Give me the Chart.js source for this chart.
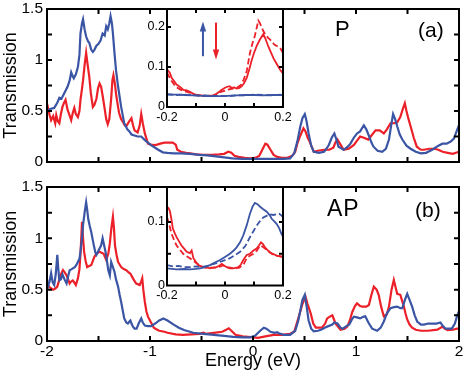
<!DOCTYPE html>
<html><head><meta charset="utf-8">
<script src="https://cdn.jsdelivr.net/npm/chart.js@4/dist/chart.umd.min.js"></script>
<style>
html,body{margin:0;padding:0;background:#fff;}
#wrap{position:relative;width:463px;height:377px;overflow:hidden;font-family:"Liberation Sans",Arial,sans-serif;}
canvas{position:absolute;left:0;top:0;}
.lbl{position:absolute;line-height:1;color:#000;white-space:nowrap;}
</style></head><body>
<div id="wrap">
<canvas id="ma" width="463" height="377"></canvas>
<canvas id="mb" width="463" height="377"></canvas>
<canvas id="ia" width="463" height="377"></canvas>
<canvas id="ib" width="463" height="377"></canvas>
<div class="lbl" style="left:335px;top:18px;font-size:22px">P</div>
<div class="lbl" style="left:418px;top:19px;font-size:21px">(a)</div>
<div class="lbl" style="left:327px;top:197px;font-size:23px;letter-spacing:1px">AP</div>
<div class="lbl" style="left:415px;top:199px;font-size:21px">(b)</div>
</div>
<script>
// ---------- data ----------
const BLUE = '#3b55a5';
const RED = '#ec2028';
const mainXTicks = [-2, -1, 0, 1, 2];
const mainYTicks = [0, 0.5, 1, 1.5];
const insetXTicks = [-0.2, 0, 0.2];
const insetAYTicks = [0, 0.1, 0.2];
const insetBYTicks = [0, 0.1];

// Panel (a) main, spin-up (blue) and spin-down (red)
const aBlueE = [-2.0,-1.97,-1.93,-1.90,-1.88,-1.86,-1.83,-1.80,-1.78,-1.765,-1.75,-1.74,-1.72,-1.70,-1.685,-1.675,-1.66,-1.65,-1.635,-1.62,-1.60,-1.59,-1.57,-1.555,-1.54,-1.52,-1.50,-1.48,-1.46,-1.44,-1.425,-1.41,-1.395,-1.383,-1.37,-1.36,-1.345,-1.33,-1.31,-1.28,-1.25,-1.22,-1.20,-1.18,-1.15,-1.12,-1.085,-1.05,-1.02,-0.99,-0.95,-0.92,-0.875,-0.83,-0.77,-0.70,-0.61,-0.52,-0.445,-0.36,-0.28,-0.2,-0.1,0,0.1,0.2,0.3,0.36,0.40,0.43,0.46,0.48,0.503,0.52,0.54,0.565,0.59,0.64,0.69,0.72,0.736,0.765,0.79,0.81,0.83,0.88,0.92,0.946,0.98,1.01,1.04,1.076,1.10,1.124,1.15,1.17,1.21,1.254,1.29,1.32,1.34,1.36,1.38,1.40,1.425,1.45,1.49,1.53,1.58,1.63,1.68,1.74,1.80,1.84,1.88,1.92,1.95,1.98,2.0];
const aBlueT = [0.50,0.52,0.53,0.58,0.63,0.62,0.68,0.74,0.80,0.88,0.84,0.82,0.86,0.93,1.05,1.26,1.36,1.40,1.30,1.23,1.18,1.17,1.10,1.08,1.10,1.14,1.16,1.19,1.26,1.24,1.33,1.30,1.36,1.43,1.36,1.26,1.07,0.90,0.74,0.54,0.38,0.32,0.30,0.27,0.26,0.25,0.25,0.215,0.19,0.165,0.14,0.12,0.095,0.09,0.085,0.085,0.08,0.07,0.065,0.055,0.045,0.035,0.03,0.03,0.03,0.03,0.03,0.035,0.085,0.2,0.35,0.43,0.47,0.40,0.28,0.16,0.10,0.09,0.10,0.14,0.167,0.24,0.28,0.22,0.15,0.12,0.15,0.18,0.24,0.28,0.30,0.36,0.32,0.26,0.19,0.15,0.11,0.10,0.13,0.22,0.35,0.47,0.42,0.35,0.27,0.22,0.16,0.13,0.10,0.085,0.09,0.12,0.16,0.18,0.18,0.20,0.23,0.31,0.36];
const aRedE = [-2.0,-1.99,-1.975,-1.96,-1.94,-1.92,-1.91,-1.895,-1.88,-1.865,-1.85,-1.835,-1.82,-1.80,-1.785,-1.765,-1.75,-1.735,-1.72,-1.70,-1.685,-1.675,-1.66,-1.65,-1.635,-1.62,-1.605,-1.59,-1.575,-1.555,-1.54,-1.52,-1.505,-1.49,-1.475,-1.458,-1.44,-1.425,-1.41,-1.395,-1.377,-1.365,-1.355,-1.34,-1.33,-1.315,-1.30,-1.28,-1.264,-1.245,-1.225,-1.20,-1.18,-1.165,-1.15,-1.12,-1.10,-1.085,-1.07,-1.05,-1.02,-0.99,-0.96,-0.93,-0.90,-0.86,-0.82,-0.78,-0.75,-0.735,-0.70,-0.65,-0.61,-0.55,-0.48,-0.40,-0.33,-0.28,-0.24,-0.21,-0.18,-0.14,-0.08,-0.03,0.02,0.06,0.09,0.12,0.14,0.17,0.2,0.235,0.28,0.33,0.38,0.41,0.43,0.46,0.49,0.51,0.53,0.55,0.59,0.63,0.69,0.74,0.78,0.80,0.82,0.85,0.88,0.93,0.98,1.01,1.04,1.07,1.12,1.15,1.19,1.23,1.27,1.30,1.335,1.37,1.40,1.43,1.455,1.474,1.49,1.51,1.53,1.56,1.59,1.63,1.66,1.71,1.76,1.80,1.84,1.89,1.94,1.97,2.0];
const aRedT = [0.50,0.53,0.46,0.41,0.45,0.38,0.46,0.40,0.38,0.47,0.54,0.58,0.61,0.51,0.47,0.41,0.48,0.53,0.47,0.44,0.50,0.61,0.72,0.80,0.95,1.07,0.95,0.84,0.68,0.54,0.56,0.62,0.72,0.77,0.74,0.64,0.52,0.42,0.37,0.42,0.62,0.80,0.85,0.76,0.67,0.57,0.48,0.42,0.395,0.36,0.36,0.40,0.43,0.36,0.31,0.29,0.36,0.47,0.38,0.28,0.18,0.17,0.165,0.17,0.18,0.19,0.19,0.19,0.17,0.12,0.10,0.09,0.085,0.075,0.07,0.07,0.075,0.08,0.10,0.09,0.06,0.05,0.04,0.035,0.04,0.06,0.12,0.18,0.17,0.12,0.07,0.05,0.04,0.04,0.06,0.10,0.18,0.26,0.33,0.30,0.24,0.20,0.10,0.11,0.12,0.12,0.14,0.19,0.22,0.17,0.12,0.13,0.167,0.21,0.25,0.24,0.22,0.26,0.31,0.31,0.28,0.32,0.38,0.38,0.39,0.44,0.52,0.575,0.50,0.42,0.35,0.24,0.15,0.12,0.12,0.13,0.13,0.12,0.10,0.09,0.08,0.09,0.10];

// Panel (b) main
const bBlueE = [-2.0,-1.99,-1.975,-1.96,-1.945,-1.93,-1.915,-1.90,-1.89,-1.88,-1.865,-1.85,-1.83,-1.81,-1.795,-1.78,-1.76,-1.73,-1.715,-1.70,-1.685,-1.675,-1.66,-1.65,-1.635,-1.62,-1.61,-1.60,-1.585,-1.57,-1.555,-1.545,-1.53,-1.52,-1.505,-1.49,-1.475,-1.46,-1.445,-1.43,-1.415,-1.405,-1.39,-1.377,-1.36,-1.345,-1.33,-1.31,-1.295,-1.28,-1.265,-1.25,-1.23,-1.215,-1.20,-1.19,-1.18,-1.165,-1.15,-1.13,-1.11,-1.085,-1.07,-1.05,-1.02,-0.99,-0.95,-0.91,-0.87,-0.83,-0.77,-0.72,-0.67,-0.58,-0.48,-0.38,-0.28,-0.19,-0.1,-0.03,0.02,0.07,0.105,0.13,0.17,0.21,0.235,0.25,0.30,0.36,0.41,0.44,0.46,0.48,0.503,0.52,0.54,0.565,0.59,0.63,0.66,0.72,0.77,0.79,0.82,0.85,0.87,0.90,0.935,0.96,0.98,1.01,1.04,1.07,1.09,1.12,1.157,1.205,1.24,1.27,1.30,1.335,1.37,1.40,1.43,1.45,1.475,1.497,1.52,1.545,1.57,1.594,1.63,1.66,1.70,1.74,1.78,1.82,1.84,1.87,1.90,1.93,1.96,1.98,2.0];
const bBlueT = [0.60,0.53,0.58,0.66,0.57,0.545,0.65,0.84,0.70,0.59,0.60,0.65,0.60,0.56,0.63,0.69,0.70,0.72,0.74,0.77,0.80,0.87,1.00,1.13,1.25,1.35,1.28,1.19,1.12,1.06,0.98,0.93,0.86,0.84,0.87,0.90,0.93,1.00,0.93,0.86,0.76,0.69,0.64,0.77,0.72,0.675,0.60,0.53,0.45,0.38,0.30,0.22,0.18,0.17,0.19,0.20,0.17,0.14,0.12,0.12,0.17,0.22,0.18,0.15,0.145,0.145,0.17,0.20,0.22,0.20,0.16,0.13,0.107,0.08,0.07,0.06,0.05,0.04,0.035,0.035,0.05,0.10,0.13,0.12,0.09,0.08,0.085,0.075,0.06,0.06,0.10,0.20,0.30,0.40,0.45,0.34,0.20,0.12,0.095,0.10,0.11,0.14,0.16,0.18,0.17,0.13,0.12,0.14,0.16,0.21,0.237,0.23,0.22,0.235,0.24,0.18,0.12,0.10,0.13,0.19,0.27,0.32,0.33,0.335,0.32,0.32,0.40,0.46,0.40,0.335,0.25,0.19,0.16,0.16,0.17,0.17,0.17,0.18,0.15,0.12,0.12,0.12,0.17,0.24,0.29];
const bRedE = [-2.0,-1.99,-1.97,-1.94,-1.92,-1.90,-1.88,-1.86,-1.845,-1.83,-1.81,-1.795,-1.78,-1.765,-1.75,-1.735,-1.72,-1.70,-1.685,-1.675,-1.665,-1.66,-1.65,-1.64,-1.625,-1.61,-1.59,-1.57,-1.555,-1.54,-1.52,-1.49,-1.47,-1.45,-1.425,-1.405,-1.39,-1.375,-1.36,-1.35,-1.34,-1.325,-1.31,-1.28,-1.255,-1.23,-1.21,-1.19,-1.16,-1.134,-1.10,-1.085,-1.075,-1.065,-1.05,-1.035,-1.02,-0.99,-0.963,-0.93,-0.91,-0.86,-0.83,-0.75,-0.68,-0.60,-0.52,-0.48,-0.46,-0.38,-0.30,-0.26,-0.235,-0.21,-0.17,-0.1,-0.05,0.05,0.12,0.2,0.28,0.36,0.40,0.445,0.48,0.51,0.53,0.56,0.585,0.61,0.67,0.70,0.72,0.75,0.77,0.79,0.80,0.85,0.89,0.915,0.94,0.963,0.99,1.01,1.04,1.06,1.10,1.125,1.15,1.173,1.20,1.22,1.245,1.27,1.30,1.32,1.345,1.367,1.385,1.40,1.43,1.445,1.465,1.48,1.497,1.52,1.545,1.58,1.63,1.70,1.79,1.84,1.86,1.89,1.94,1.98,2.0];
const bRedT = [0.55,0.545,0.52,0.50,0.51,0.53,0.60,0.66,0.69,0.67,0.64,0.60,0.56,0.58,0.59,0.57,0.545,0.61,0.70,0.85,1.05,1.16,1.00,0.87,0.78,0.72,0.73,0.74,0.78,0.82,0.85,0.87,0.86,0.85,0.79,0.85,0.95,1.10,1.21,1.10,0.93,0.84,0.77,0.72,0.70,0.69,0.67,0.655,0.60,0.56,0.545,0.58,0.61,0.50,0.38,0.29,0.237,0.18,0.13,0.11,0.10,0.09,0.08,0.065,0.06,0.065,0.07,0.08,0.07,0.08,0.09,0.11,0.124,0.10,0.06,0.045,0.04,0.03,0.045,0.06,0.06,0.07,0.09,0.237,0.36,0.43,0.36,0.27,0.17,0.13,0.13,0.17,0.22,0.24,0.25,0.20,0.17,0.11,0.12,0.14,0.20,0.28,0.34,0.367,0.34,0.335,0.335,0.35,0.45,0.53,0.50,0.45,0.33,0.24,0.26,0.335,0.50,0.594,0.52,0.46,0.45,0.40,0.335,0.27,0.21,0.16,0.13,0.11,0.10,0.10,0.11,0.14,0.12,0.105,0.11,0.12,0.12];

// Inset (a): solid and dashed curves near E = 0
const iaBlueE = [-0.2,-0.17,-0.14,-0.11,-0.08,-0.05,-0.02,0.01,0.04,0.07,0.1,0.13,0.16,0.2];
const iaBlueT = [0.031,0.031,0.030,0.029,0.028,0.027,0.027,0.028,0.029,0.030,0.030,0.029,0.030,0.030];
const iaBlueDT = [0.032,0.030,0.031,0.029,0.029,0.028,0.028,0.027,0.029,0.029,0.031,0.030,0.029,0.031];
const iaRedE = [-0.2,-0.19,-0.184,-0.175,-0.167,-0.155,-0.144,-0.135,-0.126,-0.118,-0.109,-0.095,-0.08,-0.06,-0.04,-0.029,-0.02,-0.011,0.0,0.006,0.015,0.023,0.032,0.04,0.05,0.058,0.066,0.075,0.084,0.092,0.1,0.109,0.12,0.132,0.14,0.149,0.158,0.167,0.178,0.19,0.2];
const iaRedT = [0.094,0.085,0.073,0.064,0.056,0.05,0.043,0.042,0.040,0.037,0.033,0.03,0.029,0.028,0.029,0.033,0.038,0.043,0.048,0.05,0.052,0.048,0.049,0.046,0.048,0.052,0.06,0.073,0.095,0.117,0.135,0.152,0.168,0.182,0.17,0.152,0.137,0.122,0.108,0.093,0.084];
const iaRedDE = [-0.2,-0.192,-0.184,-0.175,-0.167,-0.155,-0.144,-0.13,-0.12,-0.105,-0.09,-0.07,-0.05,-0.035,-0.017,0.0,0.006,0.02,0.04,0.055,0.064,0.075,0.086,0.095,0.103,0.11,0.115,0.12,0.132,0.14,0.149,0.16,0.17,0.18,0.19,0.2];
const iaRedDT = [0.086,0.075,0.065,0.056,0.049,0.044,0.040,0.038,0.035,0.031,0.028,0.027,0.027,0.030,0.037,0.041,0.043,0.045,0.048,0.055,0.068,0.09,0.135,0.16,0.178,0.2,0.216,0.21,0.19,0.18,0.173,0.165,0.156,0.152,0.148,0.135];

// Inset (b)
const ibBlueE = [-0.2,-0.167,-0.14,-0.121,-0.1,-0.086,-0.07,-0.052,-0.035,-0.017,0.0,0.017,0.03,0.04,0.052,0.063,0.075,0.086,0.095,0.103,0.112,0.121,0.132,0.144,0.155,0.161,0.17,0.178,0.187,0.195,0.2];
const ibBlueT = [0.027,0.0255,0.026,0.0255,0.026,0.027,0.029,0.032,0.036,0.040,0.045,0.050,0.055,0.060,0.068,0.079,0.095,0.113,0.124,0.130,0.128,0.124,0.12,0.116,0.11,0.105,0.101,0.097,0.09,0.081,0.077];
const ibBlueDE = [-0.2,-0.18,-0.16,-0.144,-0.12,-0.1,-0.08,-0.06,-0.029,0.0,0.017,0.035,0.052,0.07,0.086,0.1,0.109,0.12,0.132,0.145,0.155,0.167,0.178,0.187,0.195,0.2];
const ibBlueDT = [0.032,0.030,0.031,0.029,0.029,0.030,0.029,0.031,0.035,0.040,0.043,0.048,0.053,0.062,0.076,0.087,0.094,0.101,0.107,0.110,0.112,0.111,0.112,0.113,0.110,0.108];
const ibRedE = [-0.2,-0.195,-0.19,-0.185,-0.18,-0.173,-0.167,-0.158,-0.15,-0.141,-0.132,-0.121,-0.115,-0.109,-0.1,-0.092,-0.075,-0.06,-0.052,-0.04,-0.029,-0.02,-0.011,-0.003,0.006,0.018,0.029,0.046,0.055,0.063,0.075,0.086,0.098,0.109,0.117,0.124,0.131,0.138,0.146,0.155,0.165,0.178,0.19,0.2];
const ibRedT = [0.124,0.122,0.117,0.105,0.09,0.082,0.076,0.069,0.063,0.058,0.053,0.051,0.055,0.043,0.037,0.032,0.029,0.028,0.027,0.028,0.029,0.031,0.034,0.031,0.029,0.028,0.027,0.029,0.033,0.040,0.048,0.050,0.055,0.058,0.063,0.068,0.065,0.060,0.056,0.052,0.05,0.047,0.046,0.045];
const ibRedDE = [-0.2,-0.192,-0.184,-0.175,-0.167,-0.155,-0.144,-0.132,-0.121,-0.11,-0.098,-0.085,-0.07,-0.05,-0.03,-0.015,-0.006,0.005,0.017,0.035,0.05,0.065,0.075,0.086,0.098,0.11,0.121,0.13,0.138,0.15,0.161,0.175,0.19,0.2];
const ibRedDT = [0.108,0.095,0.081,0.071,0.063,0.056,0.050,0.046,0.043,0.039,0.035,0.031,0.028,0.028,0.028,0.030,0.032,0.029,0.027,0.027,0.028,0.034,0.043,0.047,0.05,0.055,0.063,0.061,0.058,0.054,0.050,0.047,0.046,0.045];

// ---------- helpers ----------
const pts = (xs, ys) => xs.map((x, i) => ({x: x, y: ys[i]}));
Chart.defaults.font.family = '"Liberation Sans", Arial, sans-serif';
Chart.defaults.color = '#000';
const fmt = v => String(+Number(v).toFixed(2));

const framePlugin = {
  id: 'frame',
  beforeDraw(chart, args, o) {
    if (!o.fill) return;
    const a = chart.chartArea, ctx = chart.ctx;
    ctx.save(); ctx.fillStyle = '#fff';
    ctx.fillRect(a.left, a.top, a.right - a.left, a.bottom - a.top);
    ctx.restore();
  },
  afterDraw(chart, args, o) {
    const {ctx, chartArea: a} = chart;
    const xs = chart.scales.x, ys = chart.scales.y;
    ctx.save();
    ctx.strokeStyle = '#000';
    ctx.lineWidth = o.lw;
    ctx.beginPath();
    (o.xt || []).forEach(v => {
      const p = xs.getPixelForValue(v);
      ctx.moveTo(p, a.bottom); ctx.lineTo(p, a.bottom - o.len);
      ctx.moveTo(p, a.top); ctx.lineTo(p, a.top + o.len);
    });
    (o.yt || []).forEach(v => {
      const p = ys.getPixelForValue(v);
      ctx.moveTo(a.left, p); ctx.lineTo(a.left + o.len, p);
      ctx.moveTo(a.right, p); ctx.lineTo(a.right - o.len, p);
    });
    ctx.stroke();
    ctx.strokeRect(a.left, a.top, a.right - a.left, a.bottom - a.top);
    (o.arrows || []).forEach(ar => {
      const x = xs.getPixelForValue(ar.x);
      const y0 = ys.getPixelForValue(ar.y0), y1 = ys.getPixelForValue(ar.y1);
      const dir = y1 < y0 ? -1 : 1;
      ctx.strokeStyle = ar.color; ctx.fillStyle = ar.color; ctx.lineWidth = 2;
      ctx.beginPath(); ctx.moveTo(x, y0); ctx.lineTo(x, y1 - dir * 8); ctx.stroke();
      ctx.beginPath(); ctx.moveTo(x, y1); ctx.lineTo(x - 3.2, y1 - dir * 10); ctx.lineTo(x + 3.2, y1 - dir * 10); ctx.closePath(); ctx.fill();
    });
    ctx.restore();
  }
};

function line(data, color, width, dash) {
  return {data: data, borderColor: color, borderWidth: width, borderDash: dash || [], pointRadius: 0, fill: false, tension: 0};
}
function setTicks(list) { return s => { s.ticks = list.map(v => ({value: v})); }; }

function mainChart(id, blue, red, padTop, padBottom, showX) {
  return new Chart(document.getElementById(id), {
    type: 'line',
    data: {datasets: [line(blue, BLUE, 2.2), line(red, RED, 2.2)]},
    options: {
      responsive: false, animation: false, events: [],
      layout: {padding: {left: 0, right: 4, top: padTop, bottom: padBottom}},
      plugins: {legend: {display: false}, tooltip: {enabled: false},
        frame: {xt: [-1.5, -1, -0.5, 0, 0.5, 1, 1.5], yt: [0.25, 0.5, 0.75, 1, 1.25], len: 5, lw: 2}},
      scales: {
        x: {type: 'linear', min: -2, max: 2,
          grid: {display: false, drawTicks: false}, border: {display: false},
          ticks: {display: showX, font: {size: 15.5}, padding: 1, maxRotation: 0, autoSkip: false, callback: fmt},
          afterBuildTicks: setTicks(mainXTicks),
          title: {display: showX, text: 'Energy (eV)', font: {size: 18}, padding: {top: 0, bottom: 5}},
          afterFit(s) { s.height = showX ? 36 : 0; s.paddingLeft = 0; s.paddingRight = 0; }},
        y: {type: 'linear', min: 0, max: 1.5,
          grid: {display: false, drawTicks: false}, border: {display: false},
          ticks: {font: {size: 15.5}, padding: 4, callback: fmt},
          afterBuildTicks: setTicks(mainYTicks),
          title: {display: true, text: 'Transmission', font: {size: 18}, padding: 0},
          afterFit(s) { s.width = 47; s.paddingTop = 0; s.paddingBottom = 0; }}
      }
    },
    plugins: [framePlugin]
  });
}

function insetChart(id, sets, ymax, yTicks, yMinor, padTop, padBottom, arrows) {
  return new Chart(document.getElementById(id), {
    type: 'line',
    data: {datasets: sets},
    options: {
      responsive: false, animation: false, events: [],
      layout: {padding: {left: 142, right: 180, top: padTop, bottom: padBottom}},
      plugins: {legend: {display: false}, tooltip: {enabled: false},
        frame: {fill: true, xt: [-0.1, 0, 0.1], yt: yMinor, len: 4, lw: 2, arrows: arrows}},
      scales: {
        x: {type: 'linear', min: -0.2, max: 0.2,
          grid: {display: false, drawTicks: false}, border: {display: false},
          ticks: {font: {size: 12.5}, padding: 3, maxRotation: 0, autoSkip: false, callback: fmt},
          afterBuildTicks: setTicks(insetXTicks),
          afterFit(s) { s.height = 20; s.paddingLeft = 0; s.paddingRight = 0; }},
        y: {type: 'linear', min: 0, max: ymax,
          grid: {display: false, drawTicks: false}, border: {display: false},
          ticks: {font: {size: 12.5}, padding: 2, callback: fmt},
          afterBuildTicks: setTicks(yTicks),
          afterFit(s) { s.width = 25; s.paddingTop = 0; s.paddingBottom = 0; }}
      }
    },
    plugins: [framePlugin]
  });
}

mainChart('ma', pts(aBlueE, aBlueT), pts(aRedE, aRedT), 9, 215, false);
mainChart('mb', pts(bBlueE, bBlueT), pts(bRedE, bRedT), 187, 0, true);

insetChart('ia', [
  line(pts(iaBlueE, iaBlueT), BLUE, 1.8),
  line(pts(iaBlueE, iaBlueDT), BLUE, 1.8, [6, 3]),
  line(pts(iaRedE, iaRedT), RED, 1.8),
  line(pts(iaRedDE, iaRedDT), RED, 1.8, [6, 3])
], 0.245, insetAYTicks, [0.1, 0.2], 9, 250,
[{x: -0.076, y0: 0.127, y1: 0.214, color: BLUE}, {x: -0.031, y0: 0.211, y1: 0.119, color: RED}]);

insetChart('ib', [
  line(pts(ibBlueE, ibBlueT), BLUE, 1.8),
  line(pts(ibBlueDE, ibBlueDT), BLUE, 1.8, [6, 3]),
  line(pts(ibRedE, ibRedT), RED, 1.8),
  line(pts(ibRedDE, ibRedDT), RED, 1.8, [6, 3])
], 0.155, insetBYTicks, [0.05, 0.1], 187, 71.5, []);
</script>
</body></html>
